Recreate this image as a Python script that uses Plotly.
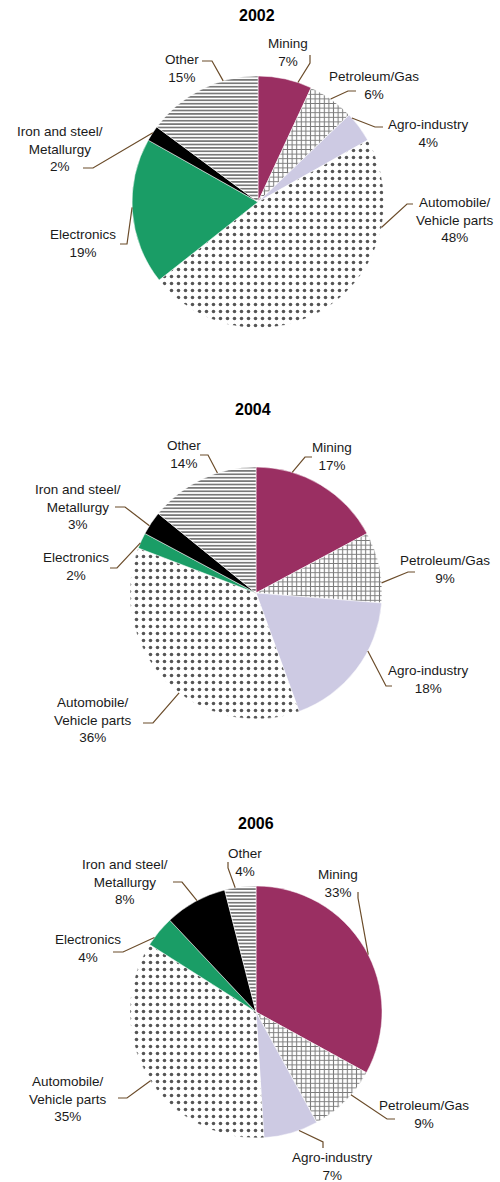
import math
import plotly.graph_objects as go

# ---- data -------------------------------------------------------------
categories = [
    "Mining",
    "Petroleum/Gas",
    "Agro-industry",
    "Automobile/Vehicle parts",
    "Electronics",
    "Iron and steel/Metallurgy",
    "Other",
]
label_lines = [
    "Mining",
    "Petroleum/Gas",
    "Agro-industry",
    "Automobile/<br>Vehicle parts",
    "Electronics",
    "Iron and steel/<br>Metallurgy",
    "Other",
]
years = ["2002", "2004", "2006"]
share_2002 = [7, 6, 4, 48, 19, 2, 15]
share_2004 = [17, 9, 18, 36, 2, 3, 14]
share_2006 = [33, 9, 7, 35, 4, 8, 4]
shares = {"2002": share_2002, "2004": share_2004, "2006": share_2006}

# ---- styling ----------------------------------------------------------
W, H = 500, 1182
R = 126
FONT = "Liberation Sans, Arial, sans-serif"
TEXT_COLOR = "#1a1a1a"
LEADER_COLOR = "#6b4c2a"

fill_colors = ["#9a2f62", "#ffffff", "#cdcae3", "#ffffff", "#1a9d66", "#000000", "#ffffff"]
pattern_shapes = ["", "+", "", ".", "", "", "-"]
pattern_fg = ["#9a2f62", "#7c7c7c", "#cdcae3", "#555555", "#1a9d66", "#000000", "#6a6a6a"]
pattern_size = [6, 4.6, 6, 7, 6, 6, 3.4]
pattern_solid = [0.3, 0.4, 0.3, 0.2, 0.3, 0.3, 0.45]

# pie centre (px) and title position (px) per year
pie_centre = {"2002": (258, 202), "2004": (256, 593), "2006": (256, 1012)}
title_pos = {"2002": (257, 16), "2004": (253, 409), "2006": (256, 823)}

# per slice: (where along the slice arc the leader attaches, elbow px, end px, text centre px)
label_layout = {
    "2002": [
        (0.74, (310, 63), (310, 55), (288, 52)),
        (0.48, (348, 91), (356, 91), (374, 86)),
        (0.13, (375, 127), (383, 127), (428, 134)),
        (0.24, (407, 204), (413, 204), (455, 220)),
        (0.53, (127, 244), (120, 244), (83, 243)),
        (0.56, (93, 168), (83, 168), (60, 149)),
        (0.70, (212, 61), (202, 61), (182, 68)),
    ],
    "2004": [
        (0.27, (305, 457), (312, 457), (332, 457)),
        (0.72, (408, 572), (415, 572), (445, 569)),
        (0.35, (386, 686), (392, 686), (428, 679)),
        (0.44, (153, 723), (143, 723), (93, 720)),
        (0.35, (117, 568), (110, 568), (76, 567)),
        (0.37, (125, 507), (115, 507), (78, 507)),
        (0.65, (208, 455), (200, 455), (184, 454)),
    ],
    "2006": [
        (0.53, (358, 898), (358, 892), (338, 883)),
        (0.38, (387, 1119), (395, 1119), (424, 1114)),
        (0.35, (323, 1142), (323, 1148), (332, 1166)),
        (0.48, (127, 1098), (118, 1098), (68, 1099)),
        (0.27, (123, 952), (113, 952), (88, 948)),
        (0.53, (182, 882), (173, 882), (125, 882)),
        (0.34, (228, 868), (228, 862), (245, 862)),
    ],
}


def fx(x):
    return x / W


def fy(y):
    return 1 - y / H


fig = go.Figure()
annotations = []
shapes = []

for year in years:
    vals = shares[year]
    cx, cy = pie_centre[year]
    fig.add_trace(
        go.Pie(
            labels=categories,
            values=vals,
            sort=False,
            direction="clockwise",
            rotation=0,
            textinfo="none",
            hoverinfo="label+percent",
            showlegend=False,
            domain=dict(x=[fx(cx - R), fx(cx + R)], y=[fy(cy + R), fy(cy - R)]),
            marker=dict(
                colors=fill_colors,
                line=dict(color="#ffffff", width=0.5),
                pattern=dict(
                    shape=pattern_shapes,
                    fgcolor=pattern_fg,
                    bgcolor=fill_colors,
                    size=pattern_size,
                    solidity=pattern_solid,
                    fillmode="replace",
                ),
            ),
        )
    )

    tx, ty = title_pos[year]
    annotations.append(
        dict(
            text=f"<b>{year}</b>",
            x=fx(tx), y=fy(ty), xref="paper", yref="paper",
            xanchor="center", yanchor="middle", showarrow=False,
            font=dict(family=FONT, size=16, color="#000000"),
        )
    )

    total = sum(vals)
    start = 0.0
    for i, v in enumerate(vals):
        a0 = start / total * 360
        a1 = (start + v) / total * 360
        start += v
        frac, elbow, end, text_c = label_layout[year][i]
        ang = math.radians(a0 + frac * (a1 - a0))
        sx = cx + R * math.sin(ang)
        sy = cy - R * math.cos(ang)
        shapes.append(
            dict(
                type="path", xref="paper", yref="paper",
                path=(
                    f"M {fx(sx)},{fy(sy)} L {fx(elbow[0])},{fy(elbow[1])} "
                    f"L {fx(end[0])},{fy(end[1])}"
                ),
                line=dict(color=LEADER_COLOR, width=1.2),
            )
        )
        annotations.append(
            dict(
                text=f"{label_lines[i]}<br>{v}%",
                x=fx(text_c[0]), y=fy(text_c[1]), xref="paper", yref="paper",
                xanchor="center", yanchor="middle", align="center", showarrow=False,
                font=dict(family=FONT, size=13.5, color=TEXT_COLOR),
            )
        )

fig.update_layout(
    width=W,
    height=H,
    margin=dict(l=0, r=0, t=0, b=0),
    paper_bgcolor="#ffffff",
    plot_bgcolor="#ffffff",
    annotations=annotations,
    shapes=shapes,
)

fig.write_html("out.html")
